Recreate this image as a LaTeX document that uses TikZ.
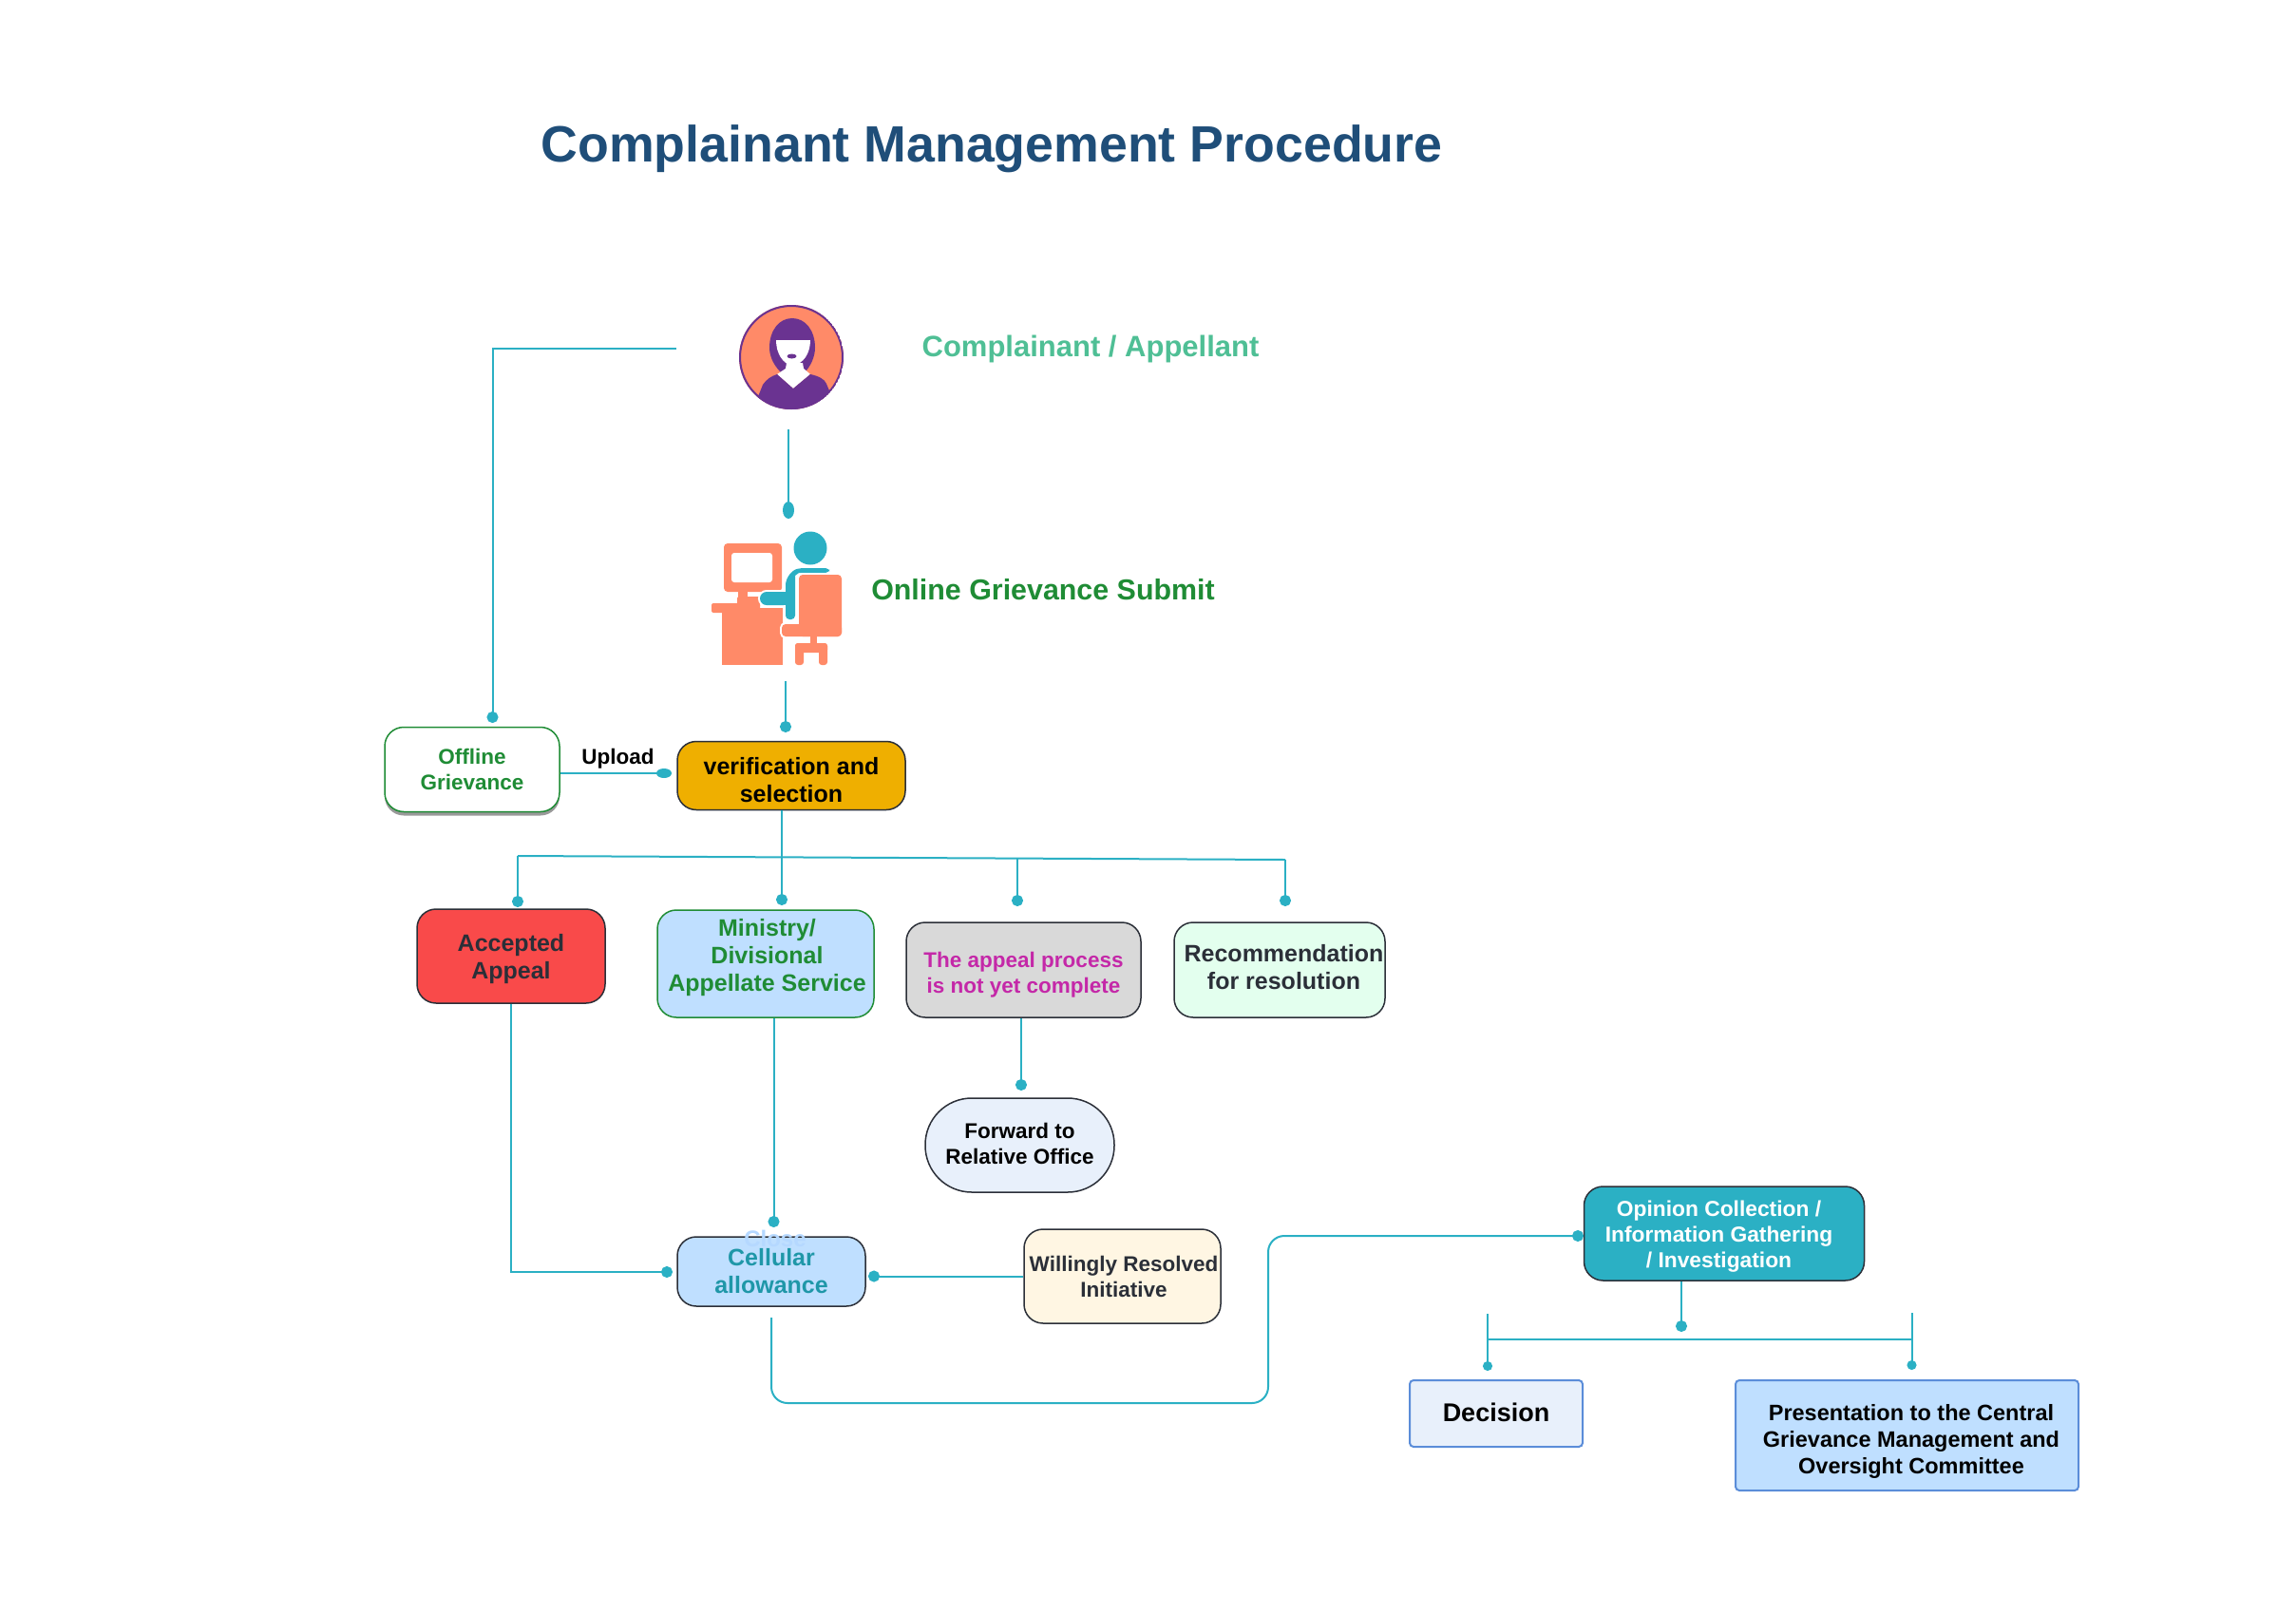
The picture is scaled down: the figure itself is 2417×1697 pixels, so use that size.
\documentclass[tikz,border=0pt]{standalone}
\usepackage{fontspec}
\setmainfont{Liberation Sans}
\usetikzlibrary
  {
    arrows.meta,              % dots at the connector ends
    shadows,                  % shadow of the offline box
  }
\definecolor{linecol}{HTML}{2BB0C4}
\definecolor{inkcol}{HTML}{2B2F38}
\definecolor{titlecol}{HTML}{1F4E79}
\definecolor{greencol}{HTML}{1F8C35}
\definecolor{mintcol}{HTML}{4FBF95}
\definecolor{skycol}{HTML}{BFDFFF}
\definecolor{palecol}{HTML}{E8F0FB}
\definecolor{edgecol}{HTML}{5B8DD9}
\definecolor{orangecol}{HTML}{FF8A68}
\definecolor{purplecol}{HTML}{6A3391}
% push the lines of a box down or up from its middle
\newcommand{\pushdown}[1]{\rule{0pt}{\dimexpr 18pt+#1*2\relax}}
\newcommand{\pushup}[1]{\rule[\dimexpr -6pt-#1*2\relax]{0pt}{0pt}}

\begin{document}
\begin{tikzpicture}
    [
      x=1pt,
      y=-1pt,
      line/.style=
        {
          draw=linecol,
          line width=2pt,
        },
      connector/.style=
        {
          line,
          -{Circle[length=12pt,width=12pt]},
        },
      box/.style=
        {
          rectangle,
          draw=inkcol,
          line width=1.5pt,
          rounded corners=20pt,
          align=center,
          inner sep=0pt,
          text=inkcol,
          font=\fontsize{25}{29}\selectfont\bfseries,
        },
      plain box/.style=
        {
          box,
          draw=edgecol,
          line width=2pt,
          rounded corners=4pt,
          text=black,
        },
      small box/.style=
        {
          box,
          font=\fontsize{22.5}{27}\selectfont\bfseries,
        },
      halo/.style=
        {
          preaction={draw=white, line width=4pt},
          fill=linecol,
        },
    ]
    \useasboundingbox (0,0) rectangle (2417,1697);

    \node[font=\fontsize{53.7}{60}\selectfont\bfseries, text=titlecol] (title) at (1044,157) {Complainant Management Procedure};

    % woman
    \begin{scope}
      \clip (833,376) circle [radius=55pt];
      \fill[orangecol] (833,376) circle [radius=55pt];
      \fill[purplecol] (822,392) .. controls (812,382) and (810,372) .. (810,366)
        .. controls (810,348) and (820,335) .. (834,335)
        .. controls (848,335) and (858,348) .. (858,366)
        .. controls (858,376) and (853,386) .. (847,392) -- cycle;
      \fill[white] (817,358) -- (853,358) .. controls (853,372) and (846,383) .. (834,385)
        .. controls (824,383) and (817,372) .. (817,358) -- cycle;
      \fill[white] (828,382) -- (827,388) -- (818,394) -- (835,409) -- (853,394) -- (846,388) -- (845,382) -- cycle;
      \fill[purplecol] (833.5,375) ellipse [x radius=5pt, y radius=2.5pt];
      \fill[purplecol] (797,420) -- (803,405) .. controls (807,399) and (812,396) .. (818,394)
        -- (835,409) -- (853,394) .. controls (862,396) and (868,399) .. (870,404) -- (875,416) -- (875,435) -- (797,435) -- cycle;
      \draw[purplecol, line width=2pt] (833,376) circle [radius=54pt];
    \end{scope}
    \node[font=\fontsize{31}{36}\selectfont\bfseries, text=mintcol] (complainant) at (1148,367) {Complainant / Appellant};

    % desk and seated person
    \fill[orangecol, rounded corners=4pt] (762,572) rectangle (823,623);
    \fill[white, rounded corners=3pt] (770,582) rectangle (813,613);
    \fill[orangecol] (777,623) rectangle (787,630);
    \fill[orangecol, rounded corners=2pt] (776,628) rectangle (800,640);
    \fill[orangecol, rounded corners=2pt] (749,635) rectangle (800,645);
    \fill[orangecol] (760,640) rectangle (824,700);
    \path[halo, rounded corners=7pt] (800,623) rectangle (832,637);
    \fill[linecol] (853,577) circle [radius=17.5pt];
    \path[halo, rounded corners=4pt] (873,598) -- (843,598)
      .. controls (834,600) and (827,608) .. (827,620) -- (827,652) -- (837,652) -- (837,610)
      .. controls (837,606) and (841,603) .. (845,603) -- (873,603) -- cycle;
    \fill[linecol] (811,623) rectangle (830,637);
    \draw[white, line width=4pt, rounded corners=4pt] (841,605) rectangle (886,670);
    \draw[white, line width=4pt, rounded corners=4pt] (823,657) rectangle (886,670);
    \fill[orangecol, rounded corners=4pt] (841,605) rectangle (886,670);
    \fill[orangecol, rounded corners=4pt] (823,657) rectangle (886,670);
    \fill[orangecol] (853,670) rectangle (860,680);
    \fill[orangecol, rounded corners=3pt] (837,677) rectangle (871,687);
    \fill[orangecol, rounded corners=3pt] (837,677) rectangle (846,700);
    \fill[orangecol, rounded corners=3pt] (862,677) rectangle (871,700);
    \node[font=\fontsize{30.4}{36}\selectfont\bfseries, text=greencol] (online) at (1098,621) {Online Grievance Submit};

    \node[small box, draw=greencol, text=greencol, fill=white, minimum width=184pt, minimum height=89pt,
      drop shadow={shadow xshift=0pt, shadow yshift=-4pt, fill=black, opacity=.4}] (offline) at (497,810) {Offline\\Grievance};
    \node[font=\fontsize{22.5}{27}\selectfont\bfseries] (upload) at (650.5,799) {Upload};
    \node[box, fill={rgb,255:red,239;green,175;blue,0}, text=black, minimum width=240pt, minimum height=72pt] (verification) at (833,816.5) {\pushdown{4.5pt}verification and\\selection};

    \node[box, fill={rgb,255:red,249;green,74;blue,74}, minimum width=198pt, minimum height=99pt] (accepted) at (538,1006.5) {\pushdown{3pt}Accepted\\Appeal};
    \node[box, draw=greencol, text=greencol, fill=skycol, minimum width=228pt, minimum height=113pt] (ministry) at (806,1014.5) {\hspace*{3pt}Ministry/\\\hspace*{3pt}Divisional\\\hspace*{3pt}Appellate Service\pushup{6pt}};
    \node[small box, fill={rgb,255:red,217;green,217;blue,217}, text={rgb,255:red,196;green,40;blue,168}, minimum width=247pt, minimum height=100pt] (appeal) at (1077.5,1021) {\pushdown{4.5pt}The appeal process\\is not yet complete};
    \node[box, fill={rgb,255:red,227;green,255;blue,238}, minimum width=222pt, minimum height=100pt] (recommendation) at (1347,1021) {\hspace*{9pt}Recommendation\\\hspace*{9pt}for resolution\pushup{0pt}};
    \node[small box, fill=palecol, text=black, minimum width=199pt, minimum height=99pt, rounded corners=49pt] (forward) at (1073.5,1205.5) {Forward to\\Relative Office\pushup{-1.5pt}};

    \node[box, fill=skycol, text={rgb,255:red,31;green,151;blue,168}, minimum width=198pt, minimum height=73pt] (cellular) at (812,1338.5) {Cellular\\allowance};
    \node[font=\fontsize{24}{29}\selectfont\bfseries, text={rgb,255:red,181;green,216;blue,255}] (close) at (816,1303.5) {Close};
    \node[small box, fill={rgb,255:red,255;green,246;blue,227}, minimum width=207pt, minimum height=99pt] (willingly) at (1181.5,1343.5) {\hspace*{3pt}Willingly Resolved\\\hspace*{3pt}Initiative};

    \node[small box, fill=linecol, text=white, minimum width=295pt, minimum height=99pt, font=\fontsize{22.8}{27}\selectfont\bfseries] (opinion) at (1815,1298.5) {\pushdown{2.5pt}Opinion Collection /\rule{11pt}{0pt}\\Information Gathering\rule{11pt}{0pt}\\/ Investigation\rule{11pt}{0pt}};
    \node[plain box, fill=palecol, minimum width=182pt, minimum height=70pt, font=\fontsize{27}{32}\selectfont\bfseries] (decision) at (1575,1488) {Decision\pushup{-1.5pt}};
    \node[plain box, fill=skycol, minimum width=361pt, minimum height=116pt, font=\fontsize{23.5}{28}\selectfont\bfseries] (presentation) at (2007.5,1511) {\pushdown{6pt}\hspace*{9pt}Presentation to the Central\\\hspace*{9pt}Grievance Management and\\\hspace*{9pt}Oversight Committee};

    \coordinate (complainant out) at (712,367);
    \coordinate (woman out)       at (830,452);
    \coordinate (submit in)       at (830,546);
    \coordinate (submit out)      at (827,717);
    \coordinate (verification in) at (827,771);
    \coordinate (offline in)      at (518.5,761);
    \coordinate (upload in)       at (707,814);
    \coordinate (bus left)        at (545,901);
    \coordinate (bus middle)      at (1071,904);
    \coordinate (bus right)       at (1353,905);
    \coordinate (accepted in)     at (545,955);
    \coordinate (ministry in)     at (823,953);
    \coordinate (appeal in)       at (1071,954);
    \coordinate (resolution in)   at (1353,954);
    \coordinate (forward in)      at (1075,1148);
    \coordinate (close in)        at (814.5,1292);
    \coordinate (cellular in)     at (708,1339);
    \coordinate (cellular right)  at (914,1343.5);
    \coordinate (cellular out)    at (812,1387);
    \coordinate (turn low)        at (1335,1477);
    \coordinate (opinion in)      at (1667,1301);
    \coordinate (opinion out)     at (1770,1402);
    \coordinate (branch left)     at (1566,1383);
    \coordinate (branch right)    at (2012.5,1382);
    \coordinate (decision in)     at (1566,1443);
    \coordinate (presentation in) at (2012.5,1442);

    \draw[connector, -{Circle[length=18pt,width=12pt]}] (woman out) -- (submit in);
    \draw[connector] (submit out) -- (verification in);
    \draw[connector] (complainant out) -| (offline in);
    \draw[connector, -{Circle[length=16pt,width=10pt]}] (offline.east |- upload in) -- (upload in);
    \draw[line] (bus left) -- (bus right);
    \draw[connector] (bus left) -- (accepted in);
    \draw[connector] (verification.south -| ministry in) -- (ministry in);
    \draw[connector] (bus middle) -- (appeal in);
    \draw[connector] (bus right) -- (resolution in);
    \draw[connector] (appeal.south -| forward in) -- (forward in);
    \draw[connector] (ministry.south -| close in) -- (close in);
    \draw[connector] (accepted.south) |- (cellular in);
    \draw[connector] (willingly.west) -- (cellular right);
    \draw[connector, rounded corners=17pt] (cellular out) |- (turn low) |- (opinion in);
    \draw[connector] (opinion.south -| opinion out) -- (opinion out);
    \draw[line] (branch left |- 0,1410) -- (branch right |- 0,1410);
    \draw[connector, -{Circle[length=10pt,width=10pt]}] (branch left) -- (decision in);
    \draw[connector, -{Circle[length=10pt,width=10pt]}] (branch right) -- (presentation in);
  \end{tikzpicture}
\end{document}
